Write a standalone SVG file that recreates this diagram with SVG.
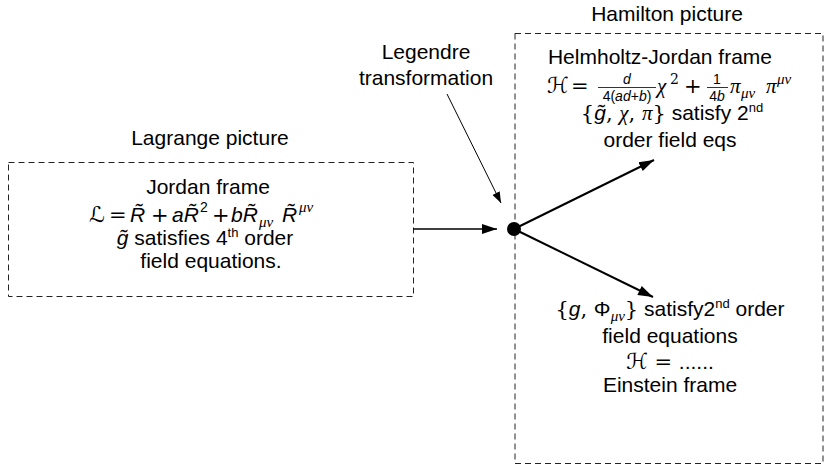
<svg xmlns="http://www.w3.org/2000/svg" width="825" height="466" viewBox="0 0 825 466">
<style>
.t{font-family:"Liberation Sans",Arial,sans-serif;font-size:21px;fill:#000}
.m{font-family:"DejaVu Serif","Liberation Serif",serif;fill:#000}
.mi{font-family:"Liberation Serif","DejaVu Serif",serif;font-style:italic;fill:#000}
.si{font-family:"Liberation Sans",Arial,sans-serif;font-style:italic;fill:#000}
.cal{font-family:"DejaVu Sans","DejaVu Serif",sans-serif;font-style:normal;fill:#000}
.f21{font-size:21px}
.f22{font-size:22px}
.s14{font-size:14px}
.s15{font-size:15px}
.s13{font-size:13px}
.box{fill:none;stroke:#222;stroke-width:1;stroke-dasharray:6 4}
.ln{stroke:#000;fill:none}
</style>
<defs>
<marker id="ah" markerUnits="userSpaceOnUse" markerWidth="16" markerHeight="12" refX="15" refY="6" orient="auto">
<path d="M0,1 L15,6 L0,11 Z" fill="#000"/>
</marker>
<marker id="ahs" markerUnits="userSpaceOnUse" markerWidth="12" markerHeight="10" refX="11" refY="5" orient="auto">
<path d="M0,1 L11,5 L0,9 Z" fill="#000"/>
</marker>
</defs>

<g id="lagrange">
<text class="t" x="210" y="145" text-anchor="middle">Lagrange picture</text>
<rect class="box" x="8.5" y="162.5" width="405" height="134"/>
<text class="t" x="208" y="194" text-anchor="middle">Jordan frame</text>
<text class="cal f22" x="89" y="222">ℒ</text>
<text class="m f21" x="109" y="222">=</text>
<text class="si f21" x="130" y="222">R̃</text>
<text class="m f21" x="151" y="222">+</text>
<text class="si f21" x="172" y="222">aR̃</text>
<text class="t s14" x="200" y="212">2</text>
<text class="m f21" x="212" y="222">+</text>
<text class="si f21" x="231" y="222">bR̃</text>
<text class="mi s15" x="259" y="227">μν</text>
<text class="si f21" x="282" y="222">R̃</text>
<text class="mi s15" x="299" y="212">μν</text>
<text class="t" x="205" y="245" text-anchor="middle"><tspan class="si">g̃</tspan> satisfies 4<tspan class="s13" dy="-8">th</tspan><tspan dy="8"> order</tspan></text>
<text class="t" x="211" y="268" text-anchor="middle">field equations.</text>
</g>

<g id="legendre">
<text class="t" x="426" y="59" text-anchor="middle">Legendre</text>
<text class="t" x="426" y="85" text-anchor="middle">transformation</text>
</g>

<g id="hamilton">
<text class="t" x="667" y="21" text-anchor="middle">Hamilton picture</text>
<rect class="box" x="515" y="33.5" width="308" height="430"/>
<text class="t" x="660" y="64" text-anchor="middle">Helmholtz-Jordan frame</text>
<text class="cal f22" x="547" y="93">ℋ</text>
<text class="m f21" x="571" y="93">=</text>
<text class="si s14" x="627" y="84" text-anchor="middle">d</text>
<line class="ln" x1="598" y1="87.5" x2="656" y2="87.5" stroke-width="0.8"/>
<text class="t s14" x="627" y="101" text-anchor="middle">4(<tspan class="si">ad</tspan>+<tspan class="si">b</tspan>)</text>
<text class="mi f21" x="657" y="93">χ</text>
<text class="m s14" x="670" y="84">2</text>
<text class="m f21" x="684" y="93">+</text>
<text class="t s14" x="717" y="84" text-anchor="middle">1</text>
<line class="ln" x1="707" y1="87.5" x2="728" y2="87.5" stroke-width="0.8"/>
<text class="t s14" x="717" y="101" text-anchor="middle">4<tspan class="si">b</tspan></text>
<text class="mi f21" x="730" y="93">π</text>
<text class="mi s15" x="741" y="98">μν</text>
<text class="mi f21" x="766" y="93">π</text>
<text class="mi s15" x="777" y="84">μν</text>
<text class="t" x="672" y="120" text-anchor="middle"><tspan class="m">{</tspan><tspan class="si">g̃</tspan><tspan class="m">, </tspan><tspan class="mi">χ</tspan><tspan class="m">, </tspan><tspan class="mi">π</tspan><tspan class="m">}</tspan> satisfy 2<tspan class="s13" dy="-8">nd</tspan></text>
<text class="t" x="670" y="147" text-anchor="middle">order field eqs</text>
<text class="t" x="670" y="316" text-anchor="middle"><tspan class="m">{</tspan><tspan class="si">g</tspan><tspan class="m">, </tspan>Φ<tspan class="mi s15" dy="5">μν</tspan><tspan class="m" dy="-5">}</tspan> satisfy2<tspan class="s13" dy="-8">nd</tspan><tspan dy="8"> order</tspan></text>
<text class="t" x="670" y="343" text-anchor="middle">field equations</text>
<text class="t" x="670" y="369" text-anchor="middle"><tspan class="cal f22">ℋ</tspan><tspan class="m"> = </tspan>......</text>
<text class="t" x="670" y="392" text-anchor="middle">Einstein frame</text>
</g>

<g id="junction">
<circle cx="514" cy="229" r="7" fill="#000"/>
</g>

<g id="connectors">
<line class="ln" x1="413" y1="229" x2="497" y2="229" stroke-width="1.6" marker-end="url(#ah)"/>
<line class="ln" x1="514" y1="229" x2="654" y2="160" stroke-width="2" marker-end="url(#ah)"/>
<line class="ln" x1="514" y1="229" x2="653" y2="297" stroke-width="2" marker-end="url(#ah)"/>
<line class="ln" x1="447" y1="94" x2="501" y2="203" stroke-width="1" marker-end="url(#ahs)"/>
</g>
</svg>
